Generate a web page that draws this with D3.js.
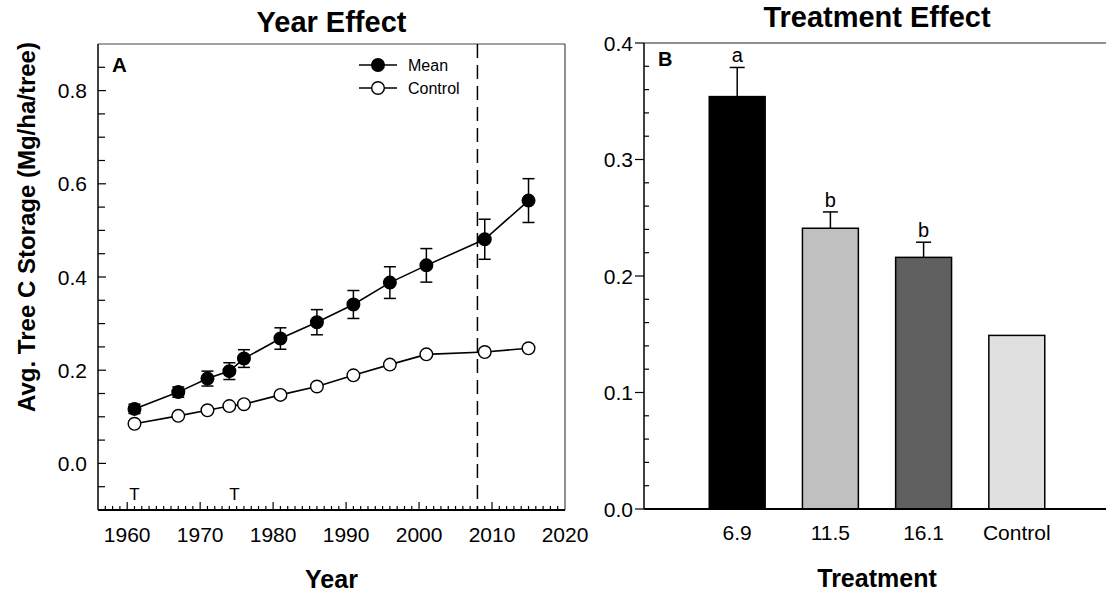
<!DOCTYPE html>
<html>
<head>
<meta charset="utf-8">
<script src="https://cdn.jsdelivr.net/npm/d3@7"></script>
<style>
  html, body { margin: 0; padding: 0; background: #fff; }
  svg { display: block; font-family: "Liberation Sans", Arial, sans-serif; }
</style>
</head>
<body>
<svg id="chart" width="1106" height="596"></svg>
<script>
// ---- Panel A: tree C storage by year ----
const years    = [1961, 1967, 1971, 1974, 1976, 1981, 1986, 1991, 1996, 2001, 2009, 2015];
const meanC    = [0.117, 0.153, 0.182, 0.198, 0.225, 0.268, 0.303, 0.341, 0.388, 0.425, 0.481, 0.564];
const meanErr  = [0.010, 0.011, 0.016, 0.018, 0.019, 0.023, 0.027, 0.030, 0.034, 0.036, 0.043, 0.047];
const controlC = [0.085, 0.102, 0.114, 0.123, 0.127, 0.147, 0.165, 0.189, 0.212, 0.234, 0.239, 0.247];
const thinYears = [1961, 1974.7];
const refYear = 2008;
const yearTicks = [1960, 1970, 1980, 1990, 2000, 2010, 2020];
const storageTicks = [0.0, 0.2, 0.4, 0.6, 0.8];

// ---- Panel B: tree C storage by treatment ----
const treatments = ["6.9", "11.5", "16.1", "Control"];
const treatC     = [0.354, 0.241, 0.216, 0.149];
const treatErr   = [0.025, 0.014, 0.013, null];
const treatGroup = ["a", "b", "b", ""];
const treatFill  = ["#000000", "#c0c0c0", "#606060", "#e0e0e0"];
const treatTicks = [0.0, 0.1, 0.2, 0.3, 0.4];

const svg = d3.select("#chart");
const fmt1 = d3.format(".1f");

// ================= Panel A =================
const A = { left: 98, right: 565, top: 44, bottom: 510 };
const xA = d3.scaleLinear().domain([1956, 2020]).range([A.left, A.right]);
const yA = d3.scaleLinear().domain([-0.1, 0.9]).range([A.bottom, A.top]);

const gA = svg.append("g");

// frame
gA.append("line").attr("x1", A.left).attr("x2", A.right).attr("y1", A.top).attr("y2", A.top)
  .attr("stroke", "#444").attr("stroke-width", 1);
gA.append("line").attr("x1", A.right).attr("x2", A.right).attr("y1", A.top).attr("y2", A.bottom)
  .attr("stroke", "#222").attr("stroke-width", 1);

// y axis: ticks drawn inward
const yMinorA = d3.range(-0.05, 0.9, 0.05).map(v => +v.toFixed(2));
const yAxisA = gA.append("g").attr("transform", `translate(${A.left},0)`);
yAxisA.append("line").attr("x1", 0).attr("x2", 0).attr("y1", A.top).attr("y2", A.bottom)
  .attr("stroke", "#000").attr("stroke-width", 1.5);
yAxisA.selectAll("line.tk").data(yMinorA).join("line").attr("class", "tk")
  .attr("x1", 0).attr("x2", d => storageTicks.some(t => Math.abs(t - d) < 1e-6) ? 8 : 7)
  .attr("y1", d => yA(d)).attr("y2", d => yA(d))
  .attr("stroke", "#000").attr("stroke-width", 1.2);
yAxisA.selectAll("text").data(storageTicks).join("text")
  .attr("x", -11).attr("y", d => yA(d)).attr("dy", "0.36em")
  .attr("text-anchor", "end").attr("font-size", 21).text(d => fmt1(d));

// x axis: ticks drawn upward into the plot
const xMinorA = d3.range(1957, 2020, 1);
const xAxisA = gA.append("g").attr("transform", `translate(0,${A.bottom})`);
xAxisA.append("line").attr("x1", A.left).attr("x2", A.right).attr("y1", 0).attr("y2", 0)
  .attr("stroke", "#000").attr("stroke-width", 2);
xAxisA.selectAll("line.tk").data(xMinorA).join("line").attr("class", "tk")
  .attr("x1", d => xA(d)).attr("x2", d => xA(d))
  .attr("y1", 0).attr("y2", d => d % 10 === 0 ? -8 : -4)
  .attr("stroke", "#000").attr("stroke-width", 1.2);
xAxisA.selectAll("text").data(yearTicks).join("text")
  .attr("x", d => xA(d)).attr("y", 32)
  .attr("text-anchor", "middle").attr("font-size", 21).text(d => d);

// reference year
gA.append("line").attr("x1", xA(refYear)).attr("x2", xA(refYear))
  .attr("y1", A.top).attr("y2", A.bottom)
  .attr("stroke", "#000").attr("stroke-width", 1.5).attr("stroke-dasharray", "14,7");

// thinning markers
gA.selectAll("text.thin").data(thinYears).join("text").attr("class", "thin")
  .attr("x", d => xA(d)).attr("y", 500)
  .attr("text-anchor", "middle").attr("font-size", 17).text("T");

// series
const meanPts = years.map((y, i) => ({ x: y, v: meanC[i], e: meanErr[i] }));
const ctrlPts = years.map((y, i) => ({ x: y, v: controlC[i] }));
const lineA = d3.line().x(d => xA(d.x)).y(d => yA(d.v));

gA.append("path").datum(ctrlPts).attr("d", lineA)
  .attr("fill", "none").attr("stroke", "#000").attr("stroke-width", 1.6);
gA.append("path").datum(meanPts).attr("d", lineA)
  .attr("fill", "none").attr("stroke", "#000").attr("stroke-width", 1.6);

// error bars on the mean series
const capW = 6;
const eb = gA.selectAll("g.eb").data(meanPts).join("g").attr("class", "eb");
eb.append("line").attr("x1", d => xA(d.x)).attr("x2", d => xA(d.x))
  .attr("y1", d => yA(d.v - d.e)).attr("y2", d => yA(d.v + d.e))
  .attr("stroke", "#000").attr("stroke-width", 1.5);
eb.append("line").attr("x1", d => xA(d.x) - capW).attr("x2", d => xA(d.x) + capW)
  .attr("y1", d => yA(d.v + d.e)).attr("y2", d => yA(d.v + d.e))
  .attr("stroke", "#000").attr("stroke-width", 1.5);
eb.append("line").attr("x1", d => xA(d.x) - capW).attr("x2", d => xA(d.x) + capW)
  .attr("y1", d => yA(d.v - d.e)).attr("y2", d => yA(d.v - d.e))
  .attr("stroke", "#000").attr("stroke-width", 1.5);

gA.selectAll("circle.ctrl").data(ctrlPts).join("circle").attr("class", "ctrl")
  .attr("cx", d => xA(d.x)).attr("cy", d => yA(d.v)).attr("r", 6.3)
  .attr("fill", "#fff").attr("stroke", "#000").attr("stroke-width", 1.4);
gA.selectAll("circle.mean").data(meanPts).join("circle").attr("class", "mean")
  .attr("cx", d => xA(d.x)).attr("cy", d => yA(d.v)).attr("r", 6.3)
  .attr("fill", "#000").attr("stroke", "#000").attr("stroke-width", 1.4);

// legend
const legend = [
  { label: "Mean", fill: "#000", y: 65 },
  { label: "Control", fill: "#fff", y: 88 }
];
const lg = gA.selectAll("g.lg").data(legend).join("g").attr("class", "lg")
  .attr("transform", d => `translate(359,${d.y})`);
lg.append("line").attr("x1", 0).attr("x2", 38).attr("stroke", "#000").attr("stroke-width", 1.6);
lg.append("circle").attr("cx", 19).attr("r", 6.3).attr("fill", d => d.fill)
  .attr("stroke", "#000").attr("stroke-width", 1.4);
lg.append("text").attr("x", 49).attr("dy", "0.36em").attr("font-size", 16).text(d => d.label);

// panel letter, title, axis titles
gA.append("text").attr("x", 112).attr("y", 72).attr("font-size", 20.5).attr("font-weight", "bold").text("A");
gA.append("text").attr("x", (A.left + A.right) / 2).attr("y", 32).attr("text-anchor", "middle")
  .attr("font-size", 29).attr("font-weight", "bold").text("Year Effect");
gA.append("text").attr("x", (A.left + A.right) / 2).attr("y", 588).attr("text-anchor", "middle")
  .attr("font-size", 25).attr("font-weight", "bold").text("Year");
gA.append("text").attr("transform", "translate(35,227) rotate(-90)").attr("text-anchor", "middle")
  .attr("font-size", 24).attr("font-weight", "bold").text("Avg. Tree C Storage (Mg/ha/tree)");

// ================= Panel B =================
const B = { left: 644, right: 1110, top: 43, bottom: 509 };
const xB = d3.scaleLinear().domain([0, treatments.length + 1]).range([B.left, B.right]);
const yB = d3.scaleLinear().domain([0, 0.4]).range([B.bottom, B.top]);
const barW = (xB(1) - xB(0)) * 0.6;

const gB = svg.append("g");

gB.append("line").attr("x1", B.left).attr("x2", B.right).attr("y1", B.top).attr("y2", B.top)
  .attr("stroke", "#222").attr("stroke-width", 1.2);

const bars = treatments.map((t, i) => ({ t, i: i + 1, v: treatC[i], e: treatErr[i], g: treatGroup[i], f: treatFill[i] }));

gB.selectAll("rect.bar").data(bars).join("rect").attr("class", "bar")
  .attr("x", d => xB(d.i) - barW / 2).attr("width", barW)
  .attr("y", d => yB(d.v)).attr("height", d => yB(0) - yB(d.v))
  .attr("fill", d => d.f).attr("stroke", "#000").attr("stroke-width", 1.5);

const withErr = bars.filter(d => d.e != null);
gB.selectAll("line.ev").data(withErr).join("line").attr("class", "ev")
  .attr("x1", d => xB(d.i)).attr("x2", d => xB(d.i))
  .attr("y1", d => yB(d.v)).attr("y2", d => yB(d.v + d.e))
  .attr("stroke", "#000").attr("stroke-width", 1.5);
gB.selectAll("line.ec").data(withErr).join("line").attr("class", "ec")
  .attr("x1", d => xB(d.i) - 7.5).attr("x2", d => xB(d.i) + 7.5)
  .attr("y1", d => yB(d.v + d.e)).attr("y2", d => yB(d.v + d.e))
  .attr("stroke", "#000").attr("stroke-width", 1.5);
gB.selectAll("text.grp").data(withErr).join("text").attr("class", "grp")
  .attr("x", d => xB(d.i)).attr("y", d => yB(d.v + d.e) - 5)
  .attr("text-anchor", "middle").attr("font-size", 20).text(d => d.g);

// y axis: labelled ticks outward, minor ticks inward
const yAxisB = gB.append("g").attr("transform", `translate(${B.left},0)`);
yAxisB.append("line").attr("x1", 0).attr("x2", 0).attr("y1", B.top).attr("y2", B.bottom)
  .attr("stroke", "#000").attr("stroke-width", 1.5);
const yMinorB = d3.range(0.02, 0.4, 0.02).map(v => +v.toFixed(2))
  .filter(v => !treatTicks.some(t => Math.abs(t - v) < 1e-6));
yAxisB.selectAll("line.mn").data(yMinorB).join("line").attr("class", "mn")
  .attr("x1", 0).attr("x2", 5).attr("y1", d => yB(d)).attr("y2", d => yB(d))
  .attr("stroke", "#000").attr("stroke-width", 1.2);
yAxisB.selectAll("line.mj").data(treatTicks).join("line").attr("class", "mj")
  .attr("x1", 0).attr("x2", -9).attr("y1", d => yB(d)).attr("y2", d => yB(d))
  .attr("stroke", "#000").attr("stroke-width", 1.2);
yAxisB.selectAll("text").data(treatTicks).join("text")
  .attr("x", -11).attr("y", d => yB(d)).attr("dy", "0.36em")
  .attr("text-anchor", "end").attr("font-size", 21).text(d => fmt1(d));

// x axis
gB.append("line").attr("x1", B.left).attr("x2", B.right).attr("y1", B.bottom).attr("y2", B.bottom)
  .attr("stroke", "#000").attr("stroke-width", 2);
gB.selectAll("text.cat").data(bars).join("text").attr("class", "cat")
  .attr("x", d => xB(d.i)).attr("y", 540)
  .attr("text-anchor", "middle").attr("font-size", 21).text(d => d.t);

gB.append("text").attr("x", 658).attr("y", 66).attr("font-size", 20).attr("font-weight", "bold").text("B");
gB.append("text").attr("x", (B.left + B.right) / 2).attr("y", 27).attr("text-anchor", "middle")
  .attr("font-size", 29).attr("font-weight", "bold").text("Treatment Effect");
gB.append("text").attr("x", (B.left + B.right) / 2).attr("y", 587).attr("text-anchor", "middle")
  .attr("font-size", 25).attr("font-weight", "bold").text("Treatment");
</script>
</body>
</html>
